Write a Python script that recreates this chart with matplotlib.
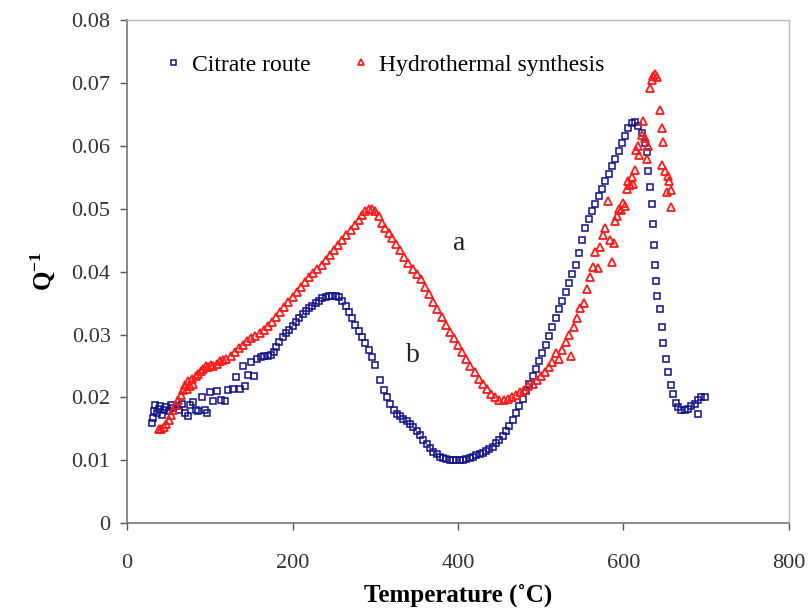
import matplotlib
matplotlib.use('Agg')
import matplotlib.pyplot as plt
from matplotlib.ticker import FuncFormatter

plt.rcParams['font.family'] = ['Liberation Serif', 'DejaVu Serif']
plt.rcParams['mathtext.fontset'] = 'custom'
plt.rcParams['mathtext.rm'] = 'Liberation Serif'
plt.rcParams['mathtext.bf'] = 'Liberation Serif:bold'

# Citrate route (blue squares)
citrate_t = [30, 31, 33, 34, 36, 38, 40, 42, 44, 47, 50, 53, 56, 60, 63, 66, 70, 73, 76, 80,
             83, 86, 90, 94, 97, 100, 104, 108, 113, 118, 122, 128, 132, 136, 140, 143, 146, 150, 153, 157,
             162, 166, 170, 174, 177, 180, 184, 188, 192, 196, 200, 204, 208, 212, 216, 220, 224, 228, 232, 236,
             240, 244, 248, 252, 256, 260, 264, 268, 272, 276, 280, 284, 288, 292, 296, 300, 306, 310, 314, 318,
             322, 326, 330, 334, 338, 342, 346, 350, 354, 358, 362, 366, 370, 374, 378, 382, 386, 390, 394, 398,
             402, 406, 410, 414, 418, 422, 426, 430, 434, 438, 442, 446, 450, 454, 458, 462, 466, 470, 474, 478,
             482, 486, 490, 494, 498, 502, 506, 510, 514, 518, 522, 526, 530, 534, 538, 542, 546, 550, 554, 558,
             562, 566, 570, 574, 578, 582, 586, 590, 594, 598, 602, 606, 610, 614, 618, 622, 626, 628, 630, 632,
             634, 636, 637, 638, 639, 641, 644, 646, 648, 651, 654, 657, 660, 663, 666, 670, 674, 678, 682, 686,
             690, 694, 698, 690]
citrate_q = [.0160, .0168, .0178, .0188, .0175, .0182, .0186, .0172, .0180, .0185, .0178, .0188, .0183, .0186, .0180, .0190, .0176, .0170, .0188, .0193,
             .0180, .0178, .0200, .0180, .0176, .0208, .0194, .0210, .0196, .0194, .0212, .0214, .0233, .0214, .0250, .0218, .0236, .0256, .0234, .0262,
             .0264, .0266, .0266, .0268, .0272, .0280, .0288, .0296, .0302, .0308, .0314, .0320, .0326, .0332, .0338, .0342, .0346, .0350, .0354, .0358,
             .0360, .0362, .0362, .0362, .0360, .0354, .0346, .0336, .0326, .0316, .0306, .0296, .0286, .0275, .0264, .0252, .0228, .0212, .0200, .0190,
             .0180, .0174, .0170, .0166, .0162, .0158, .0153, .0147, .0140, .0133, .0126, .0120, .0114, .0110, .0106, .0104, .0102, .0101, .0100, .0100,
             .0100, .0101, .0102, .0104, .0106, .0108, .0110, .0112, .0115, .0118, .0122, .0127, .0132, .0138, .0146, .0155, .0165, .0176, .0187, .0198,
             .0210, .0222, .0234, .0246, .0258, .0271, .0284, .0298, .0312, .0326, .0340, .0354, .0368, .0382, .0396, .0410, .0430, .0450, .0470, .0484,
             .0496, .0508, .0520, .0532, .0544, .0556, .0568, .0580, .0592, .0604, .0616, .0628, .0636, .0638, .0632, .0620, .0604, .0590, .0560, .0535,
             .0508, .0476, .0442, .0410, .0386, .0362, .0340, .0312, .0287, .0262, .0240, .0220, .0205, .0192, .0185, .0180, .0180, .0182, .0186, .0190,
             .0196, .0200, .0200, .0174]

# Hydrothermal synthesis (red triangles)
hydro_t = [38, 41, 44, 47, 50, 53, 56, 59, 62, 65, 68, 70, 72, 74, 76, 78, 80, 83, 86, 89,
           92, 95, 98, 101, 104, 108, 112, 116, 120, 125, 130, 135, 140, 145, 150, 155, 160, 165, 170, 175,
           180, 185, 190, 195, 200, 205, 210, 215, 220, 225, 230, 235, 240, 245, 250, 255, 260, 265, 270, 275,
           280, 284, 288, 292, 296, 300, 304, 308, 312, 316, 320, 325, 330, 335, 340, 345, 350, 355, 360, 365,
           370, 375, 380, 385, 390, 395, 400, 405, 410, 415, 420, 425, 430, 435, 440, 445, 450, 455, 460, 465,
           470, 475, 480, 485, 490, 495, 500, 505, 510, 514, 518, 522, 526, 530, 534, 537, 540, 544, 548, 552,
           556, 560, 563, 566, 569, 572, 575, 578, 581, 584, 586, 588, 590, 592, 595, 597, 600, 602, 604, 606,
           608, 610, 612, 614, 615, 617, 619, 622, 624, 626, 628, 630, 632, 634, 636, 638, 640, 644, 646, 648,
           646, 650, 654, 652, 655, 657, 657]
hydro_q = [.0150, .0150, .0153, .0158, .0164, .0172, .0180, .0188, .0196, .0204, .0212, .0220, .0214, .0226, .0218, .0230, .0222, .0234, .0238, .0242,
           .0246, .0250, .0248, .0252, .0250, .0254, .0258, .0260, .0262, .0266, .0272, .0278, .0284, .0290, .0294, .0298, .0302, .0308, .0314, .0320,
           .0328, .0336, .0344, .0352, .0360, .0368, .0376, .0384, .0392, .0398, .0404, .0410, .0418, .0426, .0434, .0442, .0450, .0458, .0466, .0474,
           .0482, .0490, .0496, .0500, .0500, .0496, .0488, .0478, .0470, .0462, .0454, .0444, .0434, .0424, .0414, .0404, .0396, .0388, .0376, .0364,
           .0352, .0340, .0328, .0316, .0304, .0294, .0284, .0272, .0262, .0250, .0240, .0230, .0222, .0214, .0206, .0200, .0196, .0196, .0197, .0200,
           .0204, .0208, .0212, .0218, .0222, .0228, .0234, .0240, .0248, .0256, .0270, .0262, .0276, .0288, .0300, .0266, .0312, .0326, .0342, .0350,
           .0372, .0392, .0408, .0432, .0406, .0440, .0458, .0470, .0512, .0450, .0416, .0446, .0480, .0488, .0500, .0498, .0510, .0504, .0532, .0545,
           .0538, .0550, .0540, .0562, .0593, .0600, .0586, .0618, .0640, .0612, .0580, .0600, .0692, .0705, .0712, .0715, .0710, .0657, .0628, .0606,
           .0570, .0560, .0553, .0526, .0545, .0530, .0503]

fig = plt.figure(figsize=(8.1, 6.12), dpi=100)
ax = fig.add_axes([0.157, 0.145, 0.817, 0.822])

ax.plot(citrate_t, citrate_q, linestyle='none', marker='s', markersize=4.5,
        markerfacecolor='none', markeredgecolor='#10108a', markeredgewidth=1.1,
        label='Citrate route')
ax.plot(hydro_t, hydro_q, linestyle='none', marker='^', markersize=5.4,
        markerfacecolor='none', markeredgecolor='#ff1a1a', markeredgewidth=1.3,
        label='Hydrothermal synthesis')

ax.set_xlim(0, 800)
ax.set_ylim(0, 0.08)
ax.set_xticks([0, 200, 400, 600, 800])
ax.set_yticks([0, 0.01, 0.02, 0.03, 0.04, 0.05, 0.06, 0.07, 0.08])
ax.yaxis.set_major_formatter(FuncFormatter(lambda v, p: '0' if v == 0 else '%.2f' % v))
ax.tick_params(direction='out', length=5, width=1, labelsize=16, colors='#555555',
               labelcolor='#333333')
ax.tick_params(axis='y', pad=7)
ax.tick_params(axis='x', pad=17)

for side in ['left', 'bottom']:
    ax.spines[side].set_color('#777777')
    ax.spines[side].set_linewidth(1.2)
for side in ['top', 'right']:
    ax.spines[side].set_color('#bbbbbb')
    ax.spines[side].set_linewidth(1)

ax.set_xlabel('Temperature (˚C)', fontsize=18, fontweight='bold', labelpad=8)
ax.set_ylabel('Q$^{\\mathbf{-1}}$', fontsize=18, fontweight='bold', labelpad=10)

ax.text(401, 0.0445, 'a', fontsize=20, ha='center', va='center', color='#222222')
ax.text(346, 0.0267, 'b', fontsize=20, ha='center', va='center', color='#222222')

ax.legend(loc='upper left', bbox_to_anchor=(0.02, 0.975), ncol=2, frameon=False,
          fontsize=17, handletextpad=0.3, columnspacing=1.6, handlelength=1.0,
          markerscale=0.8)

fig.savefig('out.png', dpi=100)
